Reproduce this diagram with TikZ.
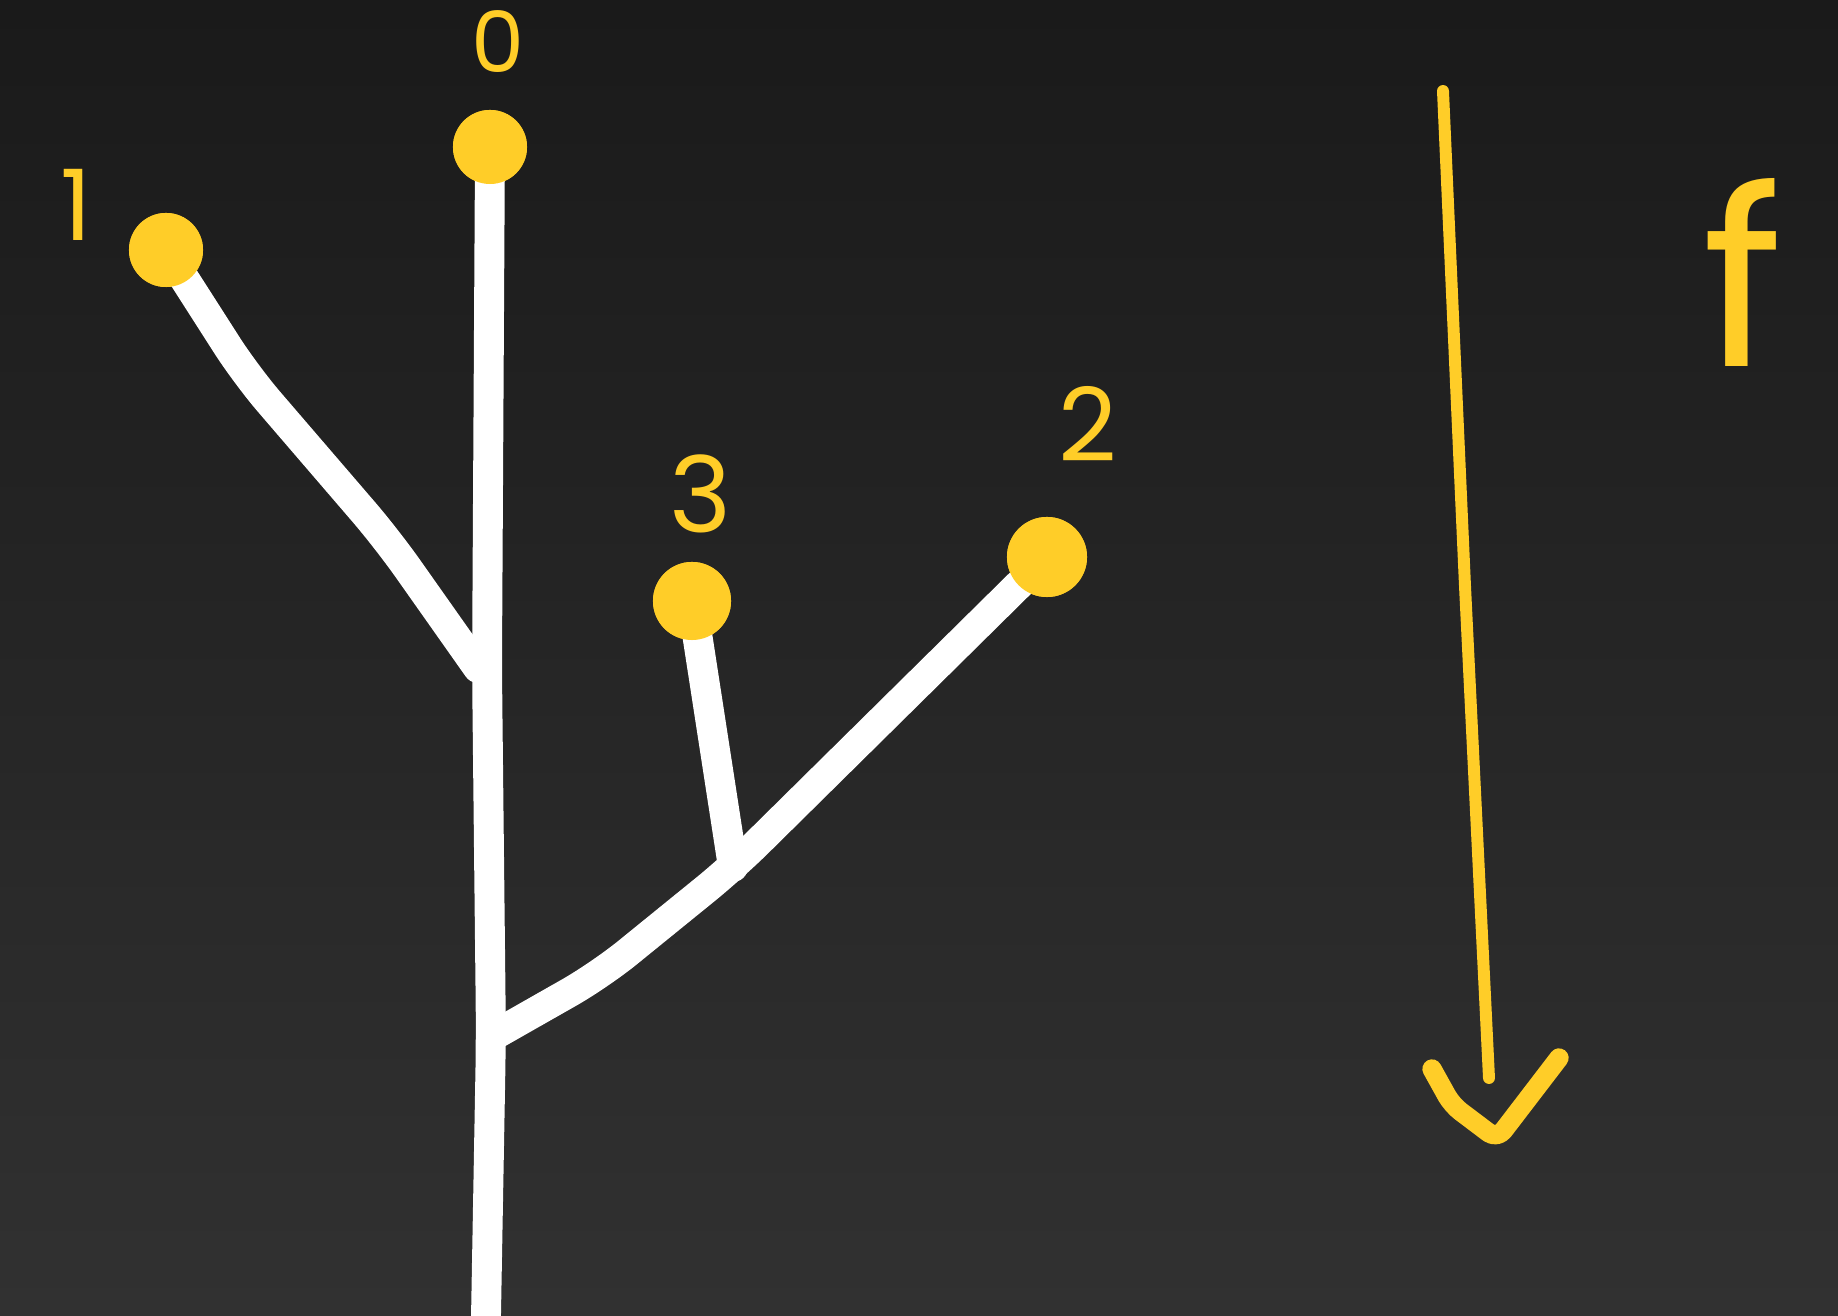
\documentclass[tikz,border=0pt]{standalone}
\usepackage{fontspec}
\setmainfont{Poppins}
\definecolor{chalkyellow}{RGB}{255,205,40}
\definecolor{boardtop}{RGB}{26,26,26}
\definecolor{boardbot}{RGB}{49,49,49}
\tikzset{
  branch/.style={draw=white, line width=8.5pt, line cap=round, line join=round, rounded corners=10pt},
  bud/.style={circle, fill=chalkyellow, inner sep=0pt, minimum size=#1},
  hand/.style={text=chalkyellow, inner sep=0pt},
  flow/.style={draw=chalkyellow, line width=2.4pt, line cap=round, line join=round},
}
\begin{document}
\begin{tikzpicture}[x=0.01cm, y=-0.01cm]
  \shade[top color=boardtop, bottom color=boardbot] (0,0) rectangle (1838,1316);
  \useasboundingbox (0,0) rectangle (1838,1316);

  % buds and joints
  \node[bud=0.74cm] (d0) at (490,147) {};
  \node[bud=0.74cm] (d1) at (166,250) {};
  \node[bud=0.80cm] (d2) at (1047,557) {};
  \node[bud=0.78cm] (d3) at (692,601) {};
  \coordinate (base) at (486,1316);
  \coordinate (j1) at (478,668);
  \coordinate (j2) at (491,1037);
  \coordinate (j3) at (733,867);

  % tree
  \draw[branch] (base) -- (j2) -- (487,668) -- (d0.center);
  \draw[branch] (j1) -- (387,539) -- (246,375) -- (d1.center);
  \draw[branch] (j2) -- (600,975) -- (j3) -- (d2.center);
  \draw[branch] (j3) -- (d3.center);
  \foreach \d/\s in {d0/0.74,d1/0.74,d2/0.80,d3/0.78}
    \node[bud=\s cm] at (\d) {};

  % labels
  \node[hand, font=\fontsize{24}{24}\selectfont] (l0) at (498,42) {0};
  \node[hand, font=\fontsize{28}{28}\selectfont] (l1) at (76,205) {1};
  \node[hand, font=\fontsize{30}{30}\selectfont] (l3) at (701,494) {3};
  \node[hand, font=\fontsize{29}{29}\selectfont] (l2) at (1088,424) {2};
  \node[hand, font=\fontsize{70}{70}\selectfont] (lf) at (1743,272) {f};

  % arrow
  \coordinate (atop) at (1443,91);
  \coordinate (aend) at (1489,1078);
  \coordinate (hl) at (1432,1069);
  \coordinate (tip) at (1497,1139);
  \coordinate (hr) at (1559,1058);
  \draw[flow, line width=3.4pt] (atop) -- (1465,586) -- (aend);
  \draw[flow, line width=5.5pt, rounded corners=3pt] (hl) -- (1452,1105) -- (tip) -- (hr);
\end{tikzpicture}
\end{document}
